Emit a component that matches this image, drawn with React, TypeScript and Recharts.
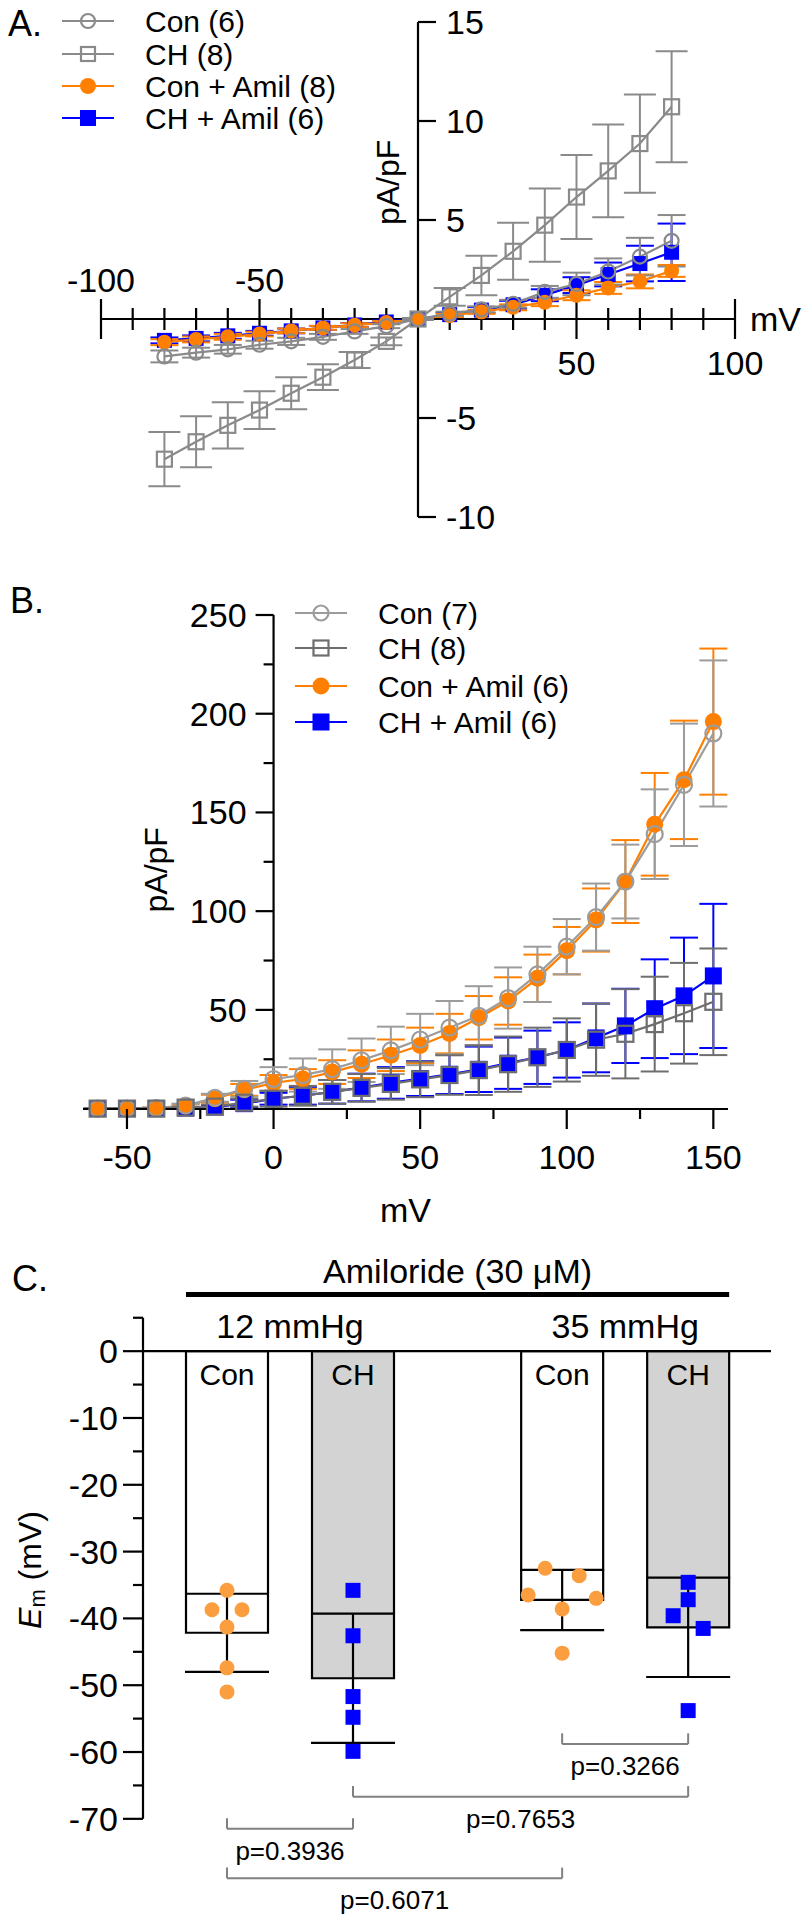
import React from 'react';
import {
  ComposedChart, Line, XAxis, YAxis, ErrorBar, ReferenceLine, ReferenceDot,
  Bar, Scatter, Cell, LabelList, Legend,
} from 'recharts';

const FONT = '"Liberation Sans", Arial, Helvetica, sans-serif';

// ---------------- Panel A data ----------------
const voltA = [-80, -70, -60, -50, -40, -30, -20, -10, 0, 10, 20, 30, 40, 50, 60, 70, 80];
const conA = [-1.89, -1.7, -1.53, -1.3, -1.13, -0.9, -0.63, -0.36, 0, 0.27, 0.49, 0.77, 1.37, 1.77, 2.4, 3.15, 3.95];
const conAErr = [0.3, 0.25, 0.22, 0.2, 0.18, 0.15, 0.12, 0.1, 0.05, 0.1, 0.15, 0.2, 0.3, 0.57, 0.66, 0.95, 1.3];
const chA = [-7.08, -6.2, -5.37, -4.6, -3.75, -2.94, -2.07, -1.13, 0, 1.12, 2.2, 3.42, 4.74, 6.16, 7.48, 8.86, 10.72];
const chAErr = [1.37, 1.29, 1.17, 0.95, 0.81, 0.65, 0.4, 0.2, 0.05, 0.45, 1.0, 1.44, 1.85, 2.12, 2.34, 2.48, 2.8];
const amilA = [-1.17, -1.03, -0.9, -0.76, -0.6, -0.45, -0.31, -0.18, 0, 0.18, 0.36, 0.59, 0.85, 1.2, 1.57, 1.9, 2.43];
const amilAErr = [0.15, 0.15, 0.15, 0.12, 0.12, 0.1, 0.1, 0.08, 0.05, 0.08, 0.1, 0.15, 0.2, 0.25, 0.3, 0.35, 0.3];
const chAmilA = [-1.08, -0.98, -0.85, -0.72, -0.6, -0.45, -0.3, -0.15, 0, 0.22, 0.45, 0.72, 1.2, 1.71, 2.25, 2.8, 3.37];
const chAmilAErr = [0.15, 0.15, 0.15, 0.12, 0.12, 0.1, 0.1, 0.08, 0.05, 0.1, 0.15, 0.2, 0.3, 0.4, 0.6, 0.9, 1.45];
const legendA = ['Con (6)', 'CH (8)', 'Con + Amil (8)', 'CH + Amil (6)'];
const xTicksA = [-100, -90, -80, -70, -60, -50, -40, -30, -20, -10, 10, 20, 30, 40, 50, 60, 70, 80, 90, 100];
const xLabelsA = [-100, -50, 50, 100];
const yTicksA = [15, 10, 5, -5, -10];

// ---------------- Panel B data ----------------
const voltB = [-60, -50, -40, -30, -20, -10, 0, 10, 20, 30, 40, 50, 60, 70, 80, 90, 100, 110, 120, 130, 140, 150];
const conB = [0, 0, 0.3, 1.5, 5.5, 10, 15, 17, 20, 24.5, 29.5, 35, 41, 47, 56, 68, 82, 97, 115, 139, 164, 190];
const conBErr = [0.2, 0.2, 0.3, 1, 2, 4, 6, 8.4, 10, 11, 12, 13, 13.5, 15, 15.5, 14, 14, 17, 18.7, 22.7, 31, 37];
const chB = [0, 0, 0, 0.5, 1, 3, 5, 6.5, 8.5, 10.5, 12.5, 14.8, 17, 19.5, 22.5, 26, 29.7, 34.9, 37.9, 42.8, 48.3, 54.1];
const chBErr = [0.2, 0.2, 0.2, 0.5, 1, 2, 4, 5, 6, 7, 8, 9, 10, 12.6, 14, 15, 16, 18.3, 22.6, 24, 25.5, 27];
const amilB = [0, 0, 0.2, 1.5, 5, 9.5, 13, 15, 18.5, 22.5, 27, 32, 38, 46, 54.5, 66, 80, 95.5, 115, 144, 166.5, 196];
const amilBErr = [0.2, 0.2, 0.3, 0.8, 2, 3, 4, 5, 6, 7, 8, 9, 10, 11, 12, 12, 12, 16, 21, 26, 30, 37];
const chAmilB = [0, 0, 0, 0.3, 0.8, 2.5, 5, 6.5, 8.5, 10.7, 13, 15.2, 17.4, 19.9, 23, 26, 29.7, 35.8, 41.9, 50.6, 57.1, 67.2];
const chAmilBErr = [0.2, 0.2, 0.2, 0.4, 1, 2, 3, 4.5, 6, 7, 8, 8.8, 10, 11.5, 13, 13.5, 14, 17.4, 18.8, 25, 29.5, 36.5];
const legendB = ['Con (7)', 'CH (8)', 'Con + Amil (6)', 'CH + Amil (6)'];
const xTicksB = [-50, -25, 0, 25, 50, 75, 100, 125, 150];
const yTicksB = [25, 50, 75, 100, 125, 150, 175, 200, 225, 250];

// ---------------- Panel C data ----------------
const groupsC = ['12 mmHg', '35 mmHg'];
const barLabelsC = ['Con', 'CH', 'Con', 'CH'];
const con12 = [-35.8, -38.7, -38.7, -41.3, -47.4, -51.0];
const ch12 = [-35.8, -42.6, -51.7, -54.8, -59.9];
const con35 = [-32.5, -33.6, -36.5, -37.0, -38.6, -45.2];
const ch35 = [-34.6, -37.2, -39.6, -41.5, -53.8];
const pLabels = ['p=0.3266', 'p=0.7653', 'p=0.3936', 'p=0.6071'];
const pPairs = [[2, 3], [1, 3], [0, 1], [0, 2]];
const yTicksC = [-70, -65, -60, -55, -50, -45, -40, -35, -30, -25, -20, -15, -10, -5, 0, 5];
const treatmentC = 'Amiloride (30 μM)';

// ---------------- layout / style constants ----------------
const GRAY_A = '#8a8a8a';
const GRAY_LIGHT = '#9c9c9c';
const GRAY_DARK = '#6e6e6e';
const ORANGE = '#ff8000';
const BLUE = '#0000ff';
const DOT_ORANGE = '#fb9e3f';
const BRACKET = '#808080';

// panel C layout
const SLOTS = [0, 1, 2.66, 3.66];
const UNIT_PX = 126;
const BAR_PX = 82;
const C_PLOT_W = 628;
const xMinC = -84 / UNIT_PX;
const xMaxC = xMinC + C_PLOT_W / UNIT_PX;
const HALF_BAR = BAR_PX / 2 / UNIT_PX;
const JITTER = [[0, -15, 15, 0, 0, 0], [0, 0, 0, 0, 0], [-17, 17, -34, 34, 0, 0], [0, 0, -15, 15, 0]];
const BRACKET_LEVELS = [-58.8, -66.7, -71.5, -78.9];
const BRACKET_TICK = 1.6;
const AMIL_LEVEL = 8.5;

type Kind = 'openCircle' | 'openSquare' | 'circle' | 'square';

function Marker({ kind, cx, cy, size, color }: { kind: Kind; cx: number; cy: number; size: number; color: string }) {
  const h = size / 2;
  if (kind === 'openCircle') return <circle cx={cx} cy={cy} r={h - 1} fill="none" stroke={color} strokeWidth={2.2} />;
  if (kind === 'openSquare') return <rect x={cx - h + 1} y={cy - h + 1} width={size - 2} height={size - 2} fill="none" stroke={color} strokeWidth={2.2} />;
  if (kind === 'circle') return <circle cx={cx} cy={cy} r={h} fill={color} />;
  return <rect x={cx - h} y={cy - h} width={size} height={size} fill={color} />;
}

const dotFn = (kind: Kind, size: number, color: string) => (p: any) => {
  if (p.cx == null || p.cy == null) return <g key={`e${p.index}`} />;
  return <g key={`d${p.index}`}><Marker kind={kind} cx={p.cx} cy={p.cy} size={size} color={color} /></g>;
};

const textShape = (label: React.ReactNode, dx: number, dy: number, size: number, anchor = 'middle', rotate = false) => (p: any) => {
  const x = p.cx + dx;
  const y = p.cy + dy;
  return (
    <text x={x} y={y} fontSize={size} fontFamily={FONT} fill="#000" textAnchor={anchor} dominantBaseline="central"
      transform={rotate ? `rotate(-90 ${x} ${y})` : undefined}>{label}</text>
  );
};

const lineShape = (x1: number, y1: number, x2: number, y2: number, stroke = '#000', sw = 2.2) => (p: any) => (
  <line x1={p.cx + x1} y1={p.cy + y1} x2={p.cx + x2} y2={p.cy + y2} stroke={stroke} strokeWidth={sw} />
);

type Row = { label: string; kind: Kind; color: string };

function LegendBox({ rows, ys, x1, x2, tx, size, font }: { rows: Row[]; ys: number[]; x1: number; x2: number; tx: number; size: number; font: number }) {
  return (
    <svg width={420} height={ys[ys.length - 1] + 30} style={{ display: 'block', overflow: 'visible' }}>
      {rows.map((r, i) => (
        <g key={r.label}>
          <line x1={x1} y1={ys[i]} x2={x2} y2={ys[i]} stroke={r.color} strokeWidth={2.2} />
          <Marker kind={r.kind} cx={(x1 + x2) / 2} cy={ys[i]} size={size} color={r.color} />
          <text x={tx} y={ys[i]} fontSize={font} fontFamily={FONT} dominantBaseline="central" fill="#000">{r.label}</text>
        </g>
      ))}
    </svg>
  );
}

// ---------------- Panel A ----------------
function PanelA() {
  const data = voltA.map((v, i) => ({
    mv: v, con: conA[i], conErr: conAErr[i], ch: chA[i], chErr: chAErr[i],
    amil: amilA[i], amilErr: amilAErr[i], chAmil: chAmilA[i], chAmilErr: chAmilAErr[i],
  }));
  const rows: Row[] = [
    { label: legendA[0], kind: 'openCircle', color: GRAY_A },
    { label: legendA[1], kind: 'openSquare', color: GRAY_A },
    { label: legendA[2], kind: 'circle', color: ORANGE },
    { label: legendA[3], kind: 'square', color: BLUE },
  ];
  const tickLen = (t: number): [number, number] => {
    if (t === -100 || t === 100 || t === 50) return [-20, 20];
    if (t === -50) return [-20, 11];
    return [-11, 11];
  };
  return (
    <ComposedChart width={812} height={560} data={data} margin={{ top: 22, right: 77, bottom: 43, left: 101 }}>
      <XAxis type="number" dataKey="mv" domain={[-100, 100]} hide />
      <YAxis type="number" domain={[-10, 15]} hide />
      <ReferenceLine segment={[{ x: -100, y: 0 }, { x: 100, y: 0 }]} stroke="#000" strokeWidth={2.2} ifOverflow="visible" />
      <ReferenceLine segment={[{ x: 0, y: -10 }, { x: 0, y: 15 }]} stroke="#000" strokeWidth={2.2} ifOverflow="visible" />
      {xTicksA.map((t) => {
        const [a, b] = tickLen(t);
        return <ReferenceDot key={`xt${t}`} x={t} y={0} r={0} ifOverflow="visible" shape={lineShape(0, a, 0, b)} />;
      })}
      {xLabelsA.map((t) => (
        <ReferenceDot key={`xl${t}`} x={t} y={0} r={0} ifOverflow="visible" shape={textShape(String(t), 0, t < 0 ? -39 : 44, 34)} />
      ))}
      {yTicksA.map((t) => (
        <ReferenceDot key={`yt${t}`} x={0} y={t} r={0} ifOverflow="visible" shape={lineShape(0, 0, 18, 0)} />
      ))}
      {yTicksA.map((t) => (
        <ReferenceDot key={`yl${t}`} x={0} y={t} r={0} ifOverflow="visible" shape={textShape(String(t), 28, 0, 34, 'start')} />
      ))}
      <ReferenceDot x={100} y={0} r={0} ifOverflow="visible" shape={textShape('mV', 15, 0, 34, 'start')} />
      <ReferenceDot x={0} y={7} r={0} ifOverflow="visible" shape={textShape('pA/pF', -30, 2, 32, 'middle', true)} />

      <Line dataKey="chAmil" stroke={BLUE} strokeWidth={2.2} dot={dotFn('square', 15, BLUE)} activeDot={false} isAnimationActive={false}>
        <ErrorBar dataKey="chAmilErr" direction="y" width={14} stroke={BLUE} strokeWidth={2} />
      </Line>
      <Line dataKey="amil" stroke={ORANGE} strokeWidth={2.2} dot={dotFn('circle', 15, ORANGE)} activeDot={false} isAnimationActive={false}>
        <ErrorBar dataKey="amilErr" direction="y" width={14} stroke={ORANGE} strokeWidth={2} />
      </Line>
      <Line dataKey="con" stroke={GRAY_A} strokeWidth={2.2} dot={dotFn('openCircle', 16, GRAY_A)} activeDot={false} isAnimationActive={false}>
        <ErrorBar dataKey="conErr" direction="y" width={14} stroke={GRAY_A} strokeWidth={2} />
      </Line>
      <Line dataKey="ch" stroke={GRAY_A} strokeWidth={2.2} dot={dotFn('openSquare', 17, GRAY_A)} activeDot={false} isAnimationActive={false}>
        <ErrorBar dataKey="chErr" direction="y" width={16} stroke={GRAY_A} strokeWidth={2} />
      </Line>
      <Legend layout="vertical" align="center" verticalAlign="middle"
        wrapperStyle={{ position: 'absolute', top: 0, left: 0, width: 420, height: 150 }}
        content={() => <LegendBox rows={rows} ys={[21, 54, 86, 118]} x1={62} x2={114} tx={145} size={16} font={30} />} />
    </ComposedChart>
  );
}

// ---------------- Panel B ----------------
function PanelB() {
  const data = voltB.map((v, i) => ({
    mv: v, con: conB[i], conErr: conBErr[i], ch: chB[i], chErr: chBErr[i],
    amil: amilB[i], amilErr: amilBErr[i], chAmil: chAmilB[i], chAmilErr: chAmilBErr[i],
  }));
  const rows: Row[] = [
    { label: legendB[0], kind: 'openCircle', color: GRAY_LIGHT },
    { label: legendB[1], kind: 'openSquare', color: GRAY_DARK },
    { label: legendB[2], kind: 'circle', color: ORANGE },
    { label: legendB[3], kind: 'square', color: BLUE },
  ];
  const xTick = (p: any) => {
    const v = p.payload.value;
    const major = v % 50 === 0;
    return (
      <g>
        <line x1={p.x} y1={p.y} x2={p.x} y2={p.y + (major ? 20 : 10)} stroke="#000" strokeWidth={2.2} />
        {major && (
          <text x={p.x} y={p.y + 48} fontSize={34} fontFamily={FONT} textAnchor="middle" dominantBaseline="central" fill="#000">{v}</text>
        )}
      </g>
    );
  };
  return (
    <ComposedChart width={812} height={680} data={data} margin={{ top: 55, right: 84, bottom: 61, left: 83 }}>
      <XAxis type="number" dataKey="mv" domain={[-65, 155]} ticks={xTicksB} interval={0} height={70}
        tickSize={0} tickMargin={0} tickLine={false} axisLine={{ stroke: '#000', strokeWidth: 2.2 }} tick={xTick} />
      <YAxis type="number" domain={[0, 250]} hide />
      <ReferenceLine segment={[{ x: 0, y: 0 }, { x: 0, y: 250 }]} stroke="#000" strokeWidth={2.2} ifOverflow="visible" />
      {yTicksB.map((t) => (
        <ReferenceDot key={`yt${t}`} x={0} y={t} r={0} ifOverflow="visible" shape={lineShape(t % 50 === 0 ? -18 : -10, 0, 0, 0)} />
      ))}
      {yTicksB.filter((t) => t % 50 === 0).map((t) => (
        <ReferenceDot key={`yl${t}`} x={0} y={t} r={0} ifOverflow="visible" shape={textShape(String(t), -27, 0, 34, 'end')} />
      ))}
      <ReferenceDot x={45} y={0} r={0} ifOverflow="visible" shape={textShape('mV', 0, 101, 34)} />
      <ReferenceDot x={0} y={125} r={0} ifOverflow="visible" shape={textShape('pA/pF', -118, 8, 32, 'middle', true)} />

      <Line dataKey="chAmil" stroke={BLUE} strokeWidth={2.2} dot={dotFn('square', 17, BLUE)} activeDot={false} isAnimationActive={false}>
        <ErrorBar dataKey="chAmilErr" direction="y" width={14} stroke={BLUE} strokeWidth={2} />
      </Line>
      <Line dataKey="amil" stroke={ORANGE} strokeWidth={2.2} dot={dotFn('circle', 17, ORANGE)} activeDot={false} isAnimationActive={false}>
        <ErrorBar dataKey="amilErr" direction="y" width={14} stroke={ORANGE} strokeWidth={2} />
      </Line>
      <Line dataKey="con" stroke={GRAY_LIGHT} strokeWidth={2.2} dot={dotFn('openCircle', 18, GRAY_LIGHT)} activeDot={false} isAnimationActive={false}>
        <ErrorBar dataKey="conErr" direction="y" width={14} stroke={GRAY_LIGHT} strokeWidth={2} />
      </Line>
      <Line dataKey="ch" stroke={GRAY_DARK} strokeWidth={2.2} dot={dotFn('openSquare', 18, GRAY_DARK)} activeDot={false} isAnimationActive={false}>
        <ErrorBar dataKey="chErr" direction="y" width={14} stroke={GRAY_DARK} strokeWidth={2} />
      </Line>
      <Legend layout="vertical" align="center" verticalAlign="middle"
        wrapperStyle={{ position: 'absolute', top: 0, left: 0, width: 420, height: 190 }}
        content={() => <LegendBox rows={rows} ys={[53, 88, 126, 162]} x1={295} x2={347} tx={378} size={17} font={30} />} />
    </ComposedChart>
  );
}

// ---------------- Panel C ----------------
const meanOf = (a: number[]) => a.reduce((s, v) => s + v, 0) / a.length;
const sdOf = (a: number[]) => {
  const m = meanOf(a);
  return Math.sqrt(a.reduce((s, v) => s + (v - m) * (v - m), 0) / (a.length - 1));
};

function PanelC() {
  const sets = [con12, ch12, con35, ch35];
  const bars = sets.map((vals, i) => ({ x: SLOTS[i], mean: meanOf(vals), sd: sdOf(vals), label: barLabelsC[i] }));
  const conPts = [0, 2].flatMap((g) => sets[g].map((v, k) => ({ x: SLOTS[g], y: v, g, k })));
  const chPts = [1, 3].flatMap((g) => sets[g].map((v, k) => ({ x: SLOTS[g], y: v, g, k })));
  const ptShape = (kind: Kind) => (p: any) => {
    const pl = p.payload || {};
    const dx = JITTER[pl.g]?.[pl.k] ?? 0;
    return <Marker kind={kind} cx={p.cx + dx} cy={p.cy} size={15} color={kind === 'circle' ? DOT_ORANGE : BLUE} />;
  };
  const yTick = (p: any) => {
    const v = p.payload.value;
    const major = v % 10 === 0;
    return (
      <g>
        <line x1={p.x - (major ? 20 : 10)} y1={p.y} x2={p.x} y2={p.y} stroke="#000" strokeWidth={2.2} />
        {major && (
          <text x={p.x - 25} y={p.y} fontSize={34} fontFamily={FONT} textAnchor="end" dominantBaseline="central" fill="#000">{v}</text>
        )}
      </g>
    );
  };
  const barLabel = (p: any) => {
    const x = p.x ?? p.viewBox?.x;
    const y = p.y ?? p.viewBox?.y;
    const w = p.width ?? p.viewBox?.width;
    const h = p.height ?? p.viewBox?.height;
    const top = Math.min(y, y + h);
    return <text x={x + w / 2} y={top + 23} fontSize={30} fontFamily={FONT} textAnchor="middle" dominantBaseline="central" fill="#000">{p.value}</text>;
  };
  const emLabel = (
    <>
      <tspan fontStyle="italic">E</tspan>
      <tspan fontSize={22} dy={7}>m</tspan>
      <tspan dy={-7}> (mV)</tspan>
    </>
  );
  const groupMid = (g: number) => (SLOTS[g * 2] + SLOTS[g * 2 + 1]) / 2;
  return (
    <ComposedChart width={812} height={680} data={bars} margin={{ top: 31, right: 41, bottom: 21, left: 0 }}>
      <XAxis type="number" dataKey="x" domain={[xMinC, xMaxC]} ticks={SLOTS} hide />
      <YAxis type="number" domain={[-82, 12]} ticks={yTicksC} interval={0} width={143} axisLine={false}
        tickLine={false} tickSize={0} tickMargin={0} tick={yTick} />
      <ReferenceLine segment={[{ x: xMinC, y: -70 }, { x: xMinC, y: 5 }]} stroke="#000" strokeWidth={2.2} ifOverflow="visible" />
      <Bar dataKey="mean" barSize={BAR_PX} stroke="#000" strokeWidth={2.2} isAnimationActive={false}>
        {bars.map((b, i) => <Cell key={`c${i}`} fill={b.label === 'CH' ? '#d3d3d3' : '#ffffff'} />)}
        <ErrorBar dataKey="sd" direction="y" width={42} stroke="#000" strokeWidth={2.2} />
        <LabelList dataKey="label" content={barLabel} />
      </Bar>
      <ReferenceLine y={0} stroke="#000" strokeWidth={2.2} ifOverflow="visible" />
      <Scatter data={conPts} dataKey="y" shape={ptShape('circle')} isAnimationActive={false} />
      <Scatter data={chPts} dataKey="y" shape={ptShape('square')} isAnimationActive={false} />

      <ReferenceLine segment={[{ x: SLOTS[0] - HALF_BAR, y: AMIL_LEVEL }, { x: SLOTS[3] + HALF_BAR, y: AMIL_LEVEL }]}
        stroke="#000" strokeWidth={5} ifOverflow="visible" />
      <ReferenceDot x={(SLOTS[0] + SLOTS[3]) / 2} y={AMIL_LEVEL} r={0} ifOverflow="visible" shape={textShape(treatmentC, 0, -23, 34)} />
      {groupsC.map((g, i) => (
        <ReferenceDot key={g} x={groupMid(i)} y={0} r={0} ifOverflow="visible" shape={textShape(g, 0, -25, 34)} />
      ))}
      <ReferenceDot x={xMinC} y={-35} r={0} ifOverflow="visible" shape={textShape(emLabel, -113, -15, 32, 'middle', true)} />

      {pPairs.map(([a, b], i) => {
        const lv = BRACKET_LEVELS[i];
        return (
          <React.Fragment key={pLabels[i]}>
            <ReferenceLine segment={[{ x: SLOTS[a], y: lv }, { x: SLOTS[b], y: lv }]} stroke={BRACKET} strokeWidth={2} ifOverflow="visible" />
            <ReferenceLine segment={[{ x: SLOTS[a], y: lv }, { x: SLOTS[a], y: lv + BRACKET_TICK }]} stroke={BRACKET} strokeWidth={2} ifOverflow="visible" />
            <ReferenceLine segment={[{ x: SLOTS[b], y: lv }, { x: SLOTS[b], y: lv + BRACKET_TICK }]} stroke={BRACKET} strokeWidth={2} ifOverflow="visible" />
            <ReferenceDot x={(SLOTS[a] + SLOTS[b]) / 2} y={lv} r={0} ifOverflow="visible" shape={textShape(pLabels[i], 0, 22, 26)} />
          </React.Fragment>
        );
      })}
    </ComposedChart>
  );
}

export default function App() {
  return (
    <div style={{ position: 'relative', width: 812, height: 1920, background: '#fff', fontFamily: FONT, overflow: 'hidden' }}>
      <style>{'body{margin:0;background:#fff}'}</style>
      <div style={{ position: 'absolute', left: 0, top: 0 }}><PanelA /></div>
      <div style={{ position: 'absolute', left: 0, top: 560 }}><PanelB /></div>
      <div style={{ position: 'absolute', left: 0, top: 1240 }}><PanelC /></div>
      <svg width={812} height={1920} style={{ position: 'absolute', left: 0, top: 0, pointerEvents: 'none' }}>
        <text x={8} y={23} fontSize={36} fontFamily={FONT} dominantBaseline="central">A.</text>
        <text x={10} y={600} fontSize={36} fontFamily={FONT} dominantBaseline="central">B.</text>
        <text x={12} y={1278} fontSize={36} fontFamily={FONT} dominantBaseline="central">C.</text>
      </svg>
    </div>
  );
}
